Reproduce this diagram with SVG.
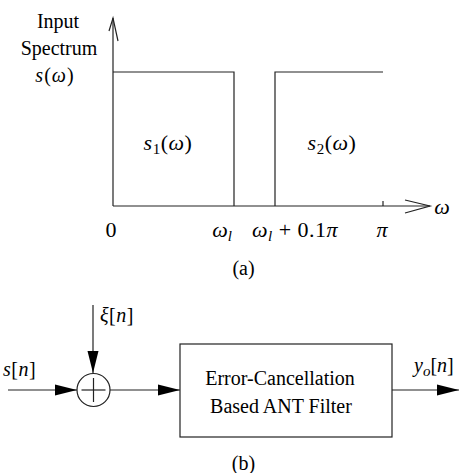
<svg xmlns="http://www.w3.org/2000/svg" width="460" height="473" viewBox="0 0 460 473">
<style>
text{font-family:"Liberation Serif","Times New Roman",serif;fill:#000;font-size:20px}
.m{font-style:italic}
.ln{stroke:#222;stroke-width:1.2;fill:none}
.sub{font-size:15px}
.ml{font-size:22px}
</style>
<defs>
<marker id="ah" markerWidth="22" markerHeight="12" refX="22" refY="6" orient="auto" markerUnits="userSpaceOnUse">
<path d="M0,0.5 L22,6 L0,11.5 Z" fill="#000"/>
</marker>
</defs>
<rect width="460" height="473" fill="#fff"/>
<g id="plot">
<line class="ln" x1="113" y1="206" x2="113" y2="18"/>
<polyline class="ln" points="109,31 113,18 118,41"/>
<line class="ln" x1="113" y1="206" x2="430" y2="206"/>
<polyline class="ln" points="405,200 430,206 405,213"/>
<polyline class="ln" points="113,72 234,72 234,206"/>
<polyline class="ln" points="275,206 275,72 383,72"/>
<line class="ln" x1="383" y1="201" x2="383" y2="206"/>
<text x="58" y="28" text-anchor="middle" font-size="23">Input</text>
<text x="59" y="55" text-anchor="middle" font-size="23">Spectrum</text>
<text x="55" y="82" text-anchor="middle" font-size="25" letter-spacing="1"><tspan class="m">s</tspan>(<tspan class="m">ω</tspan>)</text>
<text class="ml" x="168" y="150" text-anchor="middle" letter-spacing="0.5"><tspan class="m">s</tspan><tspan class="sub" dy="4">1</tspan><tspan dy="-4">(</tspan><tspan class="m">ω</tspan>)</text>
<text class="ml" x="332" y="150" text-anchor="middle" letter-spacing="0.5"><tspan class="m">s</tspan><tspan class="sub" dy="4">2</tspan><tspan dy="-4">(</tspan><tspan class="m">ω</tspan>)</text>
<text class="ml" x="111" y="237" text-anchor="middle">0</text>
<text class="ml" x="222" y="237" text-anchor="middle"><tspan class="m">ω</tspan><tspan class="sub m" dy="4">l</tspan></text>
<text class="ml" x="295" y="237" text-anchor="middle" letter-spacing="0.5"><tspan class="m">ω</tspan><tspan class="sub m" dy="4">l</tspan><tspan dy="-4"> + 0.1</tspan><tspan class="m">π</tspan></text>
<text class="ml m" x="382" y="237" text-anchor="middle">π</text>
<text class="ml m" x="442" y="214" text-anchor="middle">ω</text>
<text x="243.5" y="275" text-anchor="middle" font-size="20.5">(a)</text>
</g>
<g id="connectors">
<line class="ln" x1="8" y1="390" x2="77" y2="390" marker-end="url(#ah)"/>
<line class="ln" x1="93" y1="305" x2="93" y2="373" marker-end="url(#ah)"/>
<line class="ln" x1="110" y1="390" x2="180" y2="390" marker-end="url(#ah)"/>
<line class="ln" x1="392" y1="390" x2="459" y2="390" marker-end="url(#ah)"/>
</g>
<g id="sum">
<circle class="ln" cx="93.5" cy="390" r="16.5"/>
<line class="ln" x1="93.5" y1="378" x2="93.5" y2="402"/>
<line class="ln" x1="81.5" y1="390" x2="105.5" y2="390"/>
</g>
<g id="filter">
<rect class="ln" x="180" y="344" width="212" height="93"/>
<text x="280" y="385" text-anchor="middle" font-size="20.5">Error-Cancellation</text>
<text x="281" y="413" text-anchor="middle" font-size="20.5">Based ANT Filter</text>
</g>
<g id="labels">
<text x="3" y="376" letter-spacing="0.5"><tspan class="m">s</tspan>[<tspan class="m">n</tspan>]</text>
<text x="100" y="322" letter-spacing="0.5"><tspan class="m">ξ</tspan>[<tspan class="m">n</tspan>]</text>
<text x="414" y="372"><tspan class="m">y</tspan><tspan class="sub m" dy="4">o</tspan><tspan dy="-4">[</tspan><tspan class="m">n</tspan>]</text>
<text x="243.5" y="470" text-anchor="middle" font-size="20.5">(b)</text>
</g>
</svg>
